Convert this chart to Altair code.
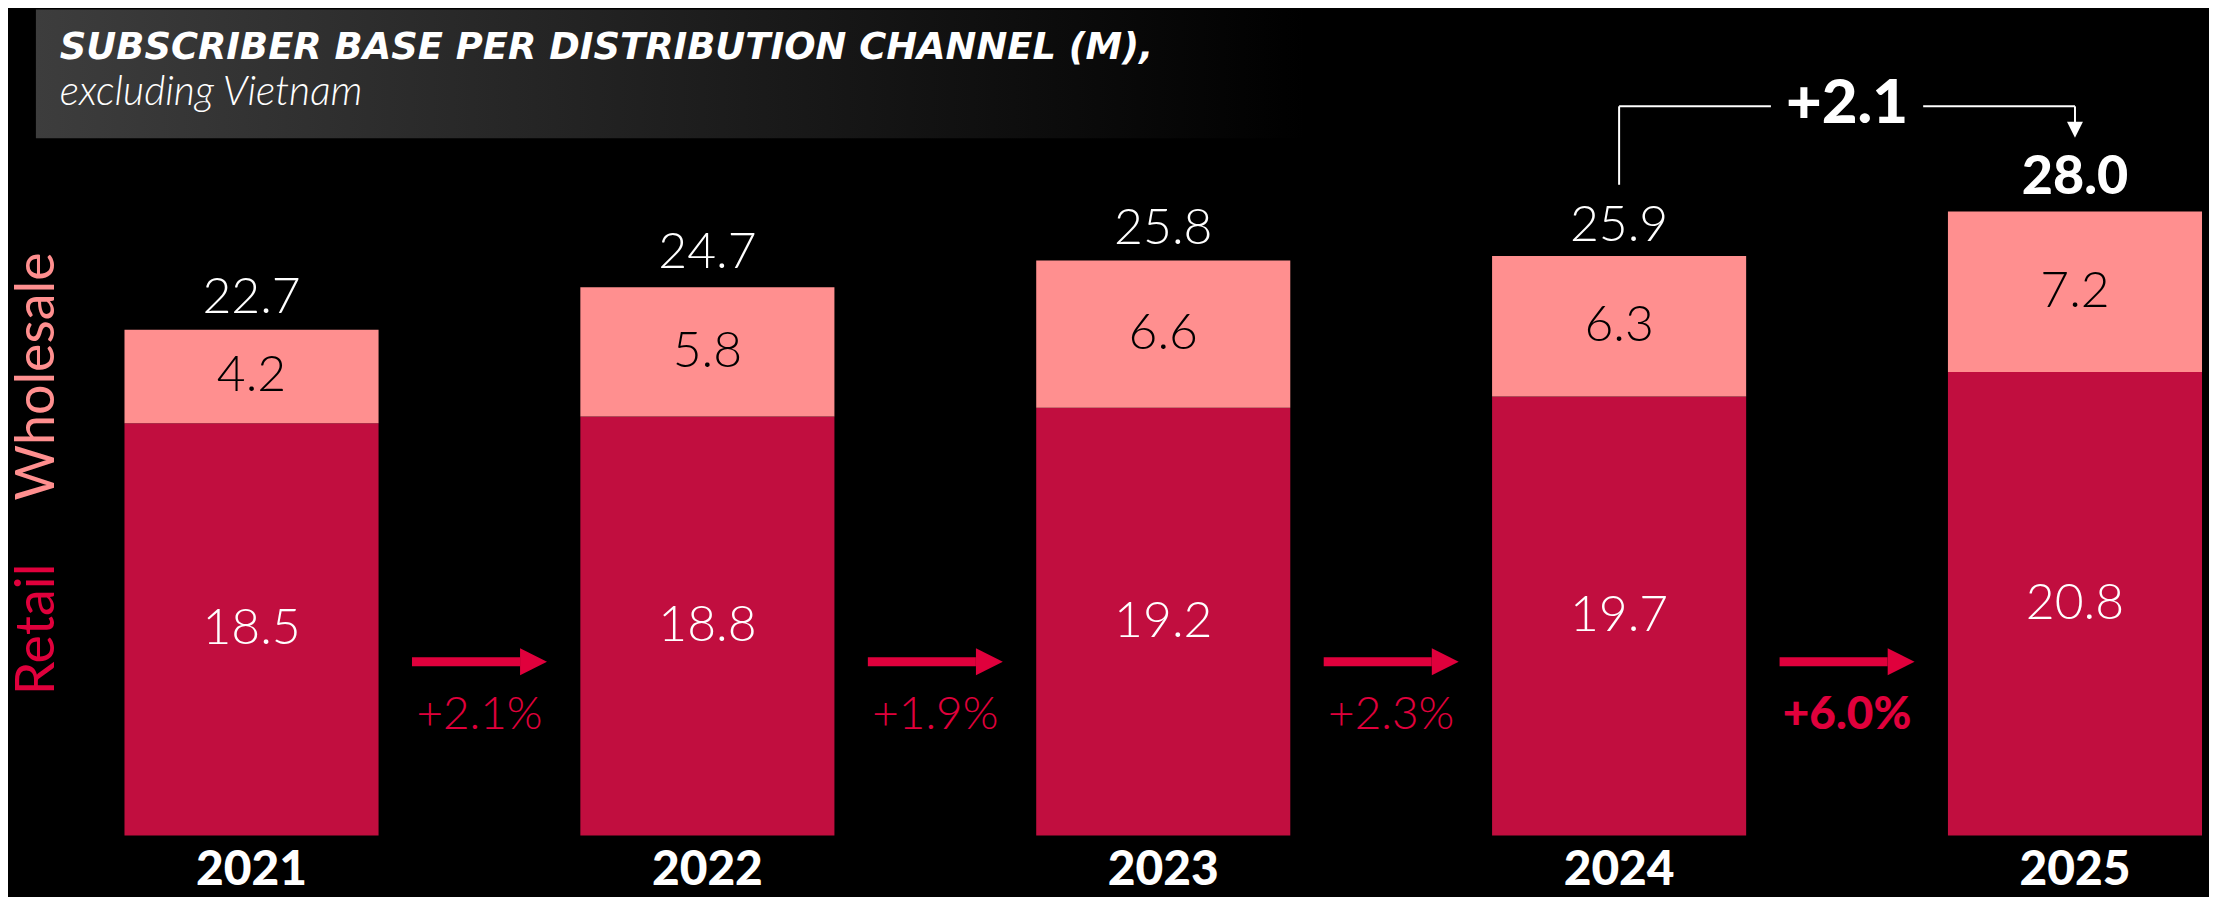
import altair as alt
import pandas as pd

# ---------------- data ----------------
years = [2021, 2022, 2023, 2024, 2025]
retail = [18.5, 18.8, 19.2, 19.7, 20.8]
wholesale = [4.2, 5.8, 6.6, 6.3, 7.2]
totals = [22.7, 24.7, 25.8, 25.9, 28.0]
growth_labels = ["+2.1%", "+1.9%", "+2.3%", "+6.0%"]
growth_bold = [False, False, False, True]
delta_label = "+2.1"
channels = ["Retail", "Wholesale"]
title_text = "SUBSCRIBER BASE PER DISTRIBUTION CHANNEL (M),"
subtitle_text = "excluding Vietnam"

# ---------------- layout ----------------
W, H, BOTTOM = 2209, 829, 60
PX_PER_YEAR = 459.6
PX_PER_UNIT = 22.37
x0 = 2021 - 240.5 / PX_PER_YEAR
x_dom = [x0, x0 + W / PX_PER_YEAR]
y_dom = [0, H / PX_PER_UNIT]

RETAIL_C = "#C10E3F"
WHOLE_C = "#FF8F8F"
ARROW_C = "#E0003C"
NUM_FONT = "Lato"

xs = alt.Scale(domain=x_dom, nice=False, zero=False)
ys = alt.Scale(domain=y_dom, nice=False, zero=True)
X = lambda f: alt.X(f, scale=xs, axis=None)
Y = lambda f: alt.Y(f, scale=ys, axis=None)

# ---------------- tables ----------------
bars = pd.DataFrame(
    [{"year": y, "channel": "Retail", "value": r, "ord": 0, "mid": r / 2, "lab": f"{r:.1f}"}
     for y, r in zip(years, retail)]
    + [{"year": y, "channel": "Wholesale", "value": w, "ord": 1, "mid": r + w / 2, "lab": f"{w:.1f}"}
       for y, r, w in zip(years, retail, wholesale)]
)
tot = pd.DataFrame({"year": years, "total": totals, "lab": [f"{t:.1f}" for t in totals],
                    "bold": [False] * 4 + [True], "base": [0] * 5, "ylab": [str(y) for y in years]})
growth = pd.DataFrame({"year": years[:-1], "lab": growth_labels, "bold": growth_bold})
growth["mid"] = growth["year"] + 0.5
growth["x1"] = growth["mid"] - 0.148
growth["x2"] = growth["mid"] + 0.089
growth["xh"] = growth["mid"] + 0.1186
growth["ya"] = 7.8
growth["yt"] = 5.43

bar_layer = alt.Chart(bars).mark_bar(size=255).encode(
    x=X("year:Q"),
    y=alt.Y("value:Q", stack="zero", scale=ys, axis=None),
    color=alt.Color("channel:N", scale=alt.Scale(domain=channels, range=[RETAIL_C, WHOLE_C]), legend=None),
    order=alt.Order("ord:Q"),
)


def seg_layer(ch, col):
    return alt.Chart(bars).transform_filter(f"datum.channel == '{ch}'").mark_text(
        font=NUM_FONT, fontSize=50, fontWeight=300, baseline="middle", color=col).encode(
        x=X("year:Q"), y=Y("mid:Q"), text="lab:N")


def tot_layer(bold):
    return alt.Chart(tot).transform_filter(
        "datum.bold" if bold else "!datum.bold"
    ).mark_text(font=NUM_FONT, fontSize=54 if bold else 50, fontWeight=900 if bold else 300,
                baseline="alphabetic", dy=-18 if bold else -17, color="white").encode(
        x=X("year:Q"), y=Y("total:Q"), text="lab:N")


year_labels = alt.Chart(tot).mark_text(font=NUM_FONT, fontSize=48, fontWeight=900,
                                       baseline="middle", dy=36, color="white").encode(
    x=X("year:Q"), y=Y("base:Q"), text="ylab:N")

# side legend labels aligned with 2021 segments
side = pd.DataFrame({"lab": channels, "y": [retail[0] / 2, retail[0] + wholesale[0] / 2]})


def side_layer(ch, col):
    return alt.Chart(side).transform_filter(f"datum.lab == '{ch}'").mark_text(
        font=NUM_FONT, fontSize=54, angle=270, baseline="middle", color=col).encode(
        x=alt.value(30), y=Y("y:Q"), text="lab:N")


shaft = alt.Chart(growth).mark_rule(strokeWidth=9, color=ARROW_C).encode(
    x=X("x1:Q"), x2="x2:Q", y=Y("ya:Q"))
head = alt.Chart(growth).mark_point(shape="M-1,-1L1,0L-1,1Z", size=729, filled=True, opacity=1,
                                    color=ARROW_C).encode(x=X("xh:Q"), y=Y("ya:Q"))


def growth_layer(bold):
    return alt.Chart(growth).transform_filter(
        "datum.bold" if bold else "!datum.bold"
    ).mark_text(font=NUM_FONT, fontSize=46, fontWeight=900 if bold else 300,
                baseline="middle", color=ARROW_C).encode(
        x=X("mid:Q"), y=Y("yt:Q"), text="lab:N")


# bracket 2024 -> 2025
BR_Y = 32.72
GAP = 0.167
br = pd.DataFrame({
    "xa": [years[3], years[3], 2024.5 + GAP, years[4]],
    "xb": [years[3], 2024.5 - GAP, years[4], years[4]],
    "ya": [totals[3] + 3.3, BR_Y, BR_Y, BR_Y],
    "yb": [BR_Y, BR_Y, BR_Y, 31.8],
})
br_lines = alt.Chart(br).mark_rule(strokeWidth=2, color="white").encode(
    x=X("xa:Q"), x2="xb:Q", y=Y("ya:Q"), y2="yb:Q")
br_head = alt.Chart(pd.DataFrame({"x": [years[4]], "y": [31.67]})).mark_point(
    shape="M-1,-1L1,-1L0,1Z", size=256, filled=True, opacity=1, color="white").encode(
    x=X("x:Q"), y=Y("y:Q"))
br_text = alt.Chart(pd.DataFrame({"x": [2024.5], "y": [32.8], "t": [delta_label]})).mark_text(
    font=NUM_FONT, fontSize=62, fontWeight=900, baseline="middle", color="white").encode(
    x=X("x:Q"), y=Y("y:Q"), text="t:N")

# header
one = pd.DataFrame({"t": [title_text], "s": [subtitle_text]})
header_box = alt.Chart(one).mark_rect(color={
    "gradient": "linear", "x1": 0, "x2": 1, "y1": 0, "y2": 0,
    "stops": [{"offset": 0, "color": "#3d3d3d"}, {"offset": 1, "color": "#000000"}]}).encode(
    x=alt.value(28), x2=alt.value(1302), y=alt.value(0), y2=alt.value(129))
title_mark = alt.Chart(one).mark_text(font="DejaVu Sans", fontSize=37, fontWeight="bold",
                                      fontStyle="italic", align="left", baseline="alphabetic", color="white").encode(
    x=alt.value(52), y=alt.value(50), text="t:N")
sub_mark = alt.Chart(one).mark_text(font=NUM_FONT, fontSize=41, fontWeight=300,
                                    fontStyle="italic", align="left", baseline="alphabetic", color="white").encode(
    x=alt.value(52), y=alt.value(96), text="s:N")

chart = alt.layer(
    bar_layer, seg_layer("Retail", "white"), seg_layer("Wholesale", "black"),
    tot_layer(False), tot_layer(True), year_labels,
    side_layer("Retail", ARROW_C), side_layer("Wholesale", WHOLE_C),
    shaft, head, growth_layer(False), growth_layer(True),
    br_lines, br_head, br_text, header_box, title_mark, sub_mark,
).properties(
    width=W, height=H,
    padding={"left": 0, "top": 0, "right": 0, "bottom": BOTTOM},
    autosize=alt.AutoSizeParams(type="none"),
    background="black",
).configure_view(stroke=None)

chart.save("out.html", embed_options={"renderer": "svg", "actions": False})
